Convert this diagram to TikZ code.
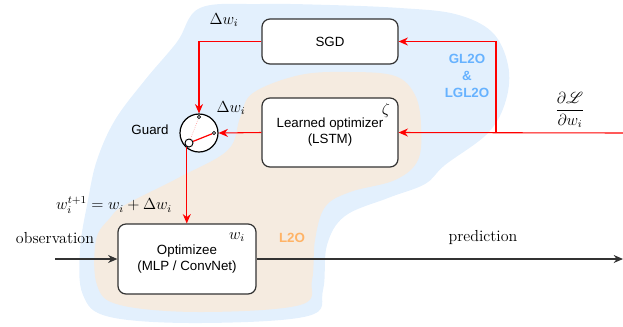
\documentclass[tikz,border=0pt]{standalone}
\usepackage{amsmath}
\usepackage{mathrsfs}
\usepackage{fontspec}
\setsansfont{Liberation Sans}
\usepackage{tikz}
\usetikzlibrary{arrows.meta}

\definecolor{bluebg}{RGB}{227,240,253}
\definecolor{beigebg}{RGB}{245,235,224}
\definecolor{glblue}{RGB}{102,178,255}
\definecolor{lorange}{RGB}{255,179,102}
\definecolor{edge}{RGB}{51,51,51}

\begin{document}
\begin{tikzpicture}[x=0.75pt, y=-0.75pt, >={Stealth[length=7pt,width=6pt]},
  block/.style={draw=edge, line width=0.9pt, rounded corners=6pt, fill=white, align=center, inner sep=0pt, font=\sffamily\fontsize{10}{12}\selectfont},
  serif/.style={font=\fontsize{12}{14}\selectfont, inner sep=1pt},
  flow/.style={->, red, line width=0.8pt},
  signal/.style={->, edge, line width=0.8pt},
  contact/.style={circle, draw, fill=white, inner sep=0pt, line width=0.5pt}]
\useasboundingbox (0,0) rectangle (623,326);
% regions
\fill[bluebg] plot[smooth cycle, tension=0.6] coordinates {(200,8) (260,4) (330,5) (400,8) (455,14) (492,32) (508,65) (506,100) (488,133) (445,165) (425,184) (388,198) (345,216) (327,245) (323,290) (308,316) (200,323) (110,317) (83,295) (80,250) (88,200) (97,160) (115,120) (145,80) (177,42)};
\fill[beigebg] plot[smooth cycle, tension=0.6] coordinates {(253,93) (300,75) (350,72) (395,76) (415,95) (421,125) (418,160) (395,180) (350,192) (325,207) (315,240) (312,280) (300,305) (200,312) (120,305) (97,285) (96,240) (110,218) (125,205) (180,177) (228,150) (240,118)};
% blocks
\node[block, minimum width=102pt, minimum height=33.75pt] (sgd) at (330,41.5) {SGD};
\node[block, minimum width=102pt, minimum height=51.75pt] (lo) at (330,132.5) {Learned optimizer\\(LSTM)};
\node[block, minimum width=103.5pt, minimum height=52.5pt] (opt) at (187,259) {Optimizee\\(MLP / ConvNet)};
% guard
\node[circle, draw, fill=white, line width=0.9pt, minimum size=28.5pt, inner sep=0pt] (guard) at (199,133) {};
\node[contact, minimum size=2.5pt] (gtop) at (199,117) {};
\node[contact, minimum size=2.5pt] (gright) at (214,133) {};
\node[contact, minimum size=6pt, line width=0.7pt] (gbot) at (189,143) {};
\draw[red!35, densely dotted, line width=0.5pt] (gbot) -- (gtop);
\draw[red, line width=0.9pt] (gbot) -- (gright);
% connections
\coordinate (grad) at (623,133);
\coordinate (split) at (496,133);
\coordinate (obs) at (55,259);
\coordinate (pred) at (623,259);
\draw[flow] (sgd.west) -| (guard.north);
\draw[flow] (lo.west) -- (guard.east);
\draw[flow] (gbot.-120) -- (gbot.-120 |- opt.north);
\draw[flow] (grad) -- (lo.east);
\draw[flow] (split) |- (sgd.east);
\draw[signal] (obs) -- (opt.west);
\draw[signal] (opt.east) -- (pred);
% labels
\node[serif] (dwsgd) at (224,20) {$\Delta w_i$};
\node[serif] (dwlo) at (231,108) {$\Delta w_i$};
\node[font=\sffamily\fontsize{10}{12}\selectfont] (guardlbl) at (150,130) {Guard};
\node[serif] (zeta) at (386,110) {$\zeta$};
\node[serif] (wi) at (237,237) {$w_i$};
\node[serif] (update) at (114,205) {$w_i^{t+1} = w_i + \Delta w_i$};
\node[serif] (obslbl) at (55,238) {observation};
\node[serif] (predlbl) at (483,237) {prediction};
\node[serif] (gradlbl) at (570,110) {$\dfrac{\partial\mathscr{L}}{\partial w_i}$};
\node[font=\sffamily\bfseries\fontsize{10}{12.5}\selectfont, text=glblue, align=center] (gl2o) at (467,76) {GL2O\\\&\\LGL2O};
\node[font=\sffamily\bfseries\fontsize{10}{12}\selectfont, text=lorange] (l2o) at (292,238) {L2O};
\end{tikzpicture}
\end{document}
